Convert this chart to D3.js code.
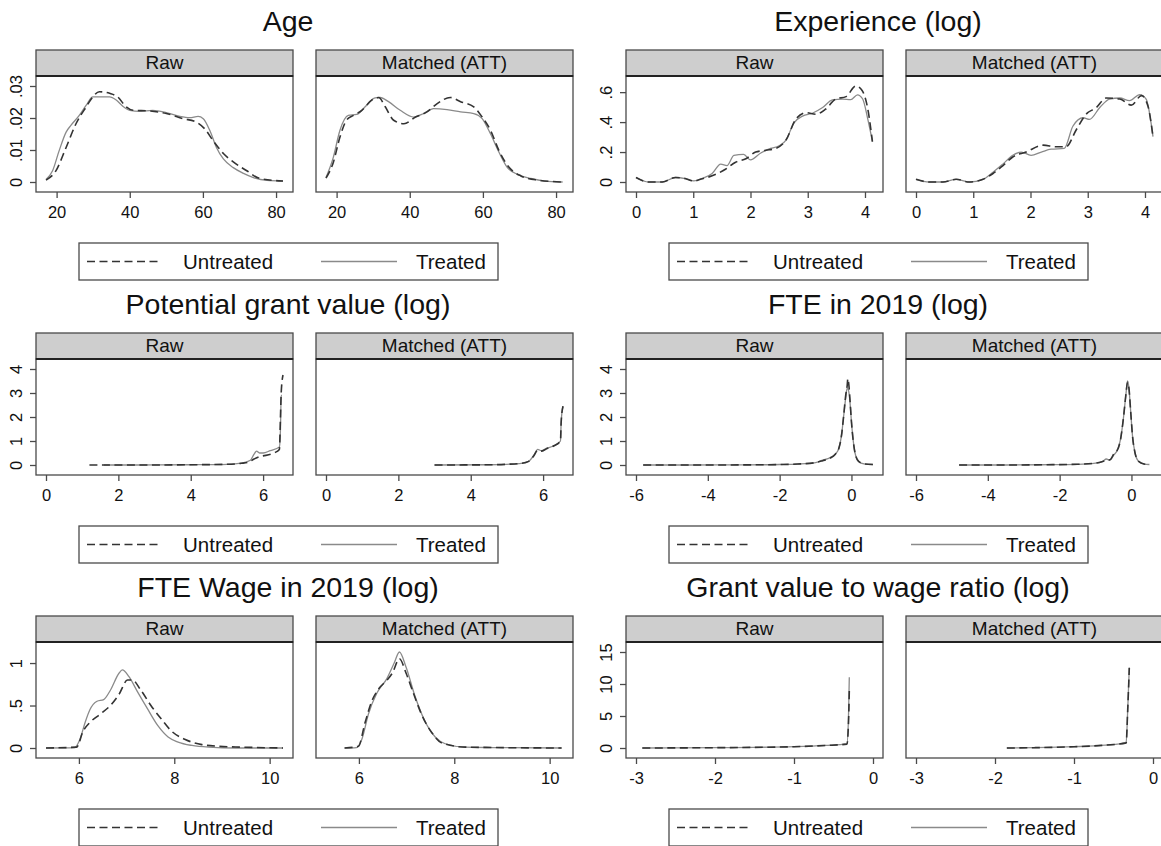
<!DOCTYPE html>
<html>
<head>
<meta charset="utf-8">
<script src="https://cdn.jsdelivr.net/npm/d3@7/dist/d3.min.js"></script>
<style>
  body { margin: 0; background: #fff; }
  text { font-family: "Liberation Sans", Arial, sans-serif; fill: #111; }
</style>
</head>
<body>
<svg id="chart" width="1161" height="846"></svg>
<script>
// ---- data: [x, density] ----
const titles = ["Age", "Experience (log)", "Potential grant value (log)",
  "FTE in 2019 (log)", "FTE Wage in 2019 (log)", "Grant value to wage ratio (log)"];
const panelNames = ["Raw", "Matched (ATT)"];
const seriesNames = ["Untreated", "Treated"];

const xTicks = [
  [20, 40, 60, 80], [0, 1, 2, 3, 4], [0, 2, 4, 6],
  [-6, -4, -2, 0], [6, 8, 10], [-3, -2, -1, 0]
];
const yTicks = [
  [0, .01, .02, .03], [0, .2, .4, .6], [0, 1, 2, 3, 4],
  [0, 1, 2, 3, 4], [0, .5, 1], [0, 5, 10, 15]
];

const ageRawUntreated = [[17.1,.0006],[19.8,.0035],[22.6,.0108],[25.3,.0182],[28.1,.0235],[29.9,.0266],[31.7,.0282],[34.5,.0277],[36.7,.0266],[39,.0235],[40.9,.0224],[45.4,.0222],[50,.0214],[54.6,.0198],[58.2,.0187],[60.5,.0166],[62.8,.0129],[65.6,.0089],[68.3,.0063],[72,.0035],[75.6,.0011],[81.9,.0003]];
const ageRawTreated = [[17.1,.0008],[18.9,.0035],[20.7,.0098],[22.6,.0156],[23.9,.0177],[26.2,.0208],[28.1,.024],[29.9,.0266],[31.7,.0266],[34.5,.0266],[36.3,.0256],[38.1,.0237],[40,.0224],[42.7,.0221],[46.3,.0224],[50,.0217],[53.7,.0205],[56.4,.0201],[58.7,.0205],[60.1,.0198],[61.9,.0161],[63.7,.0108],[65.6,.0072],[68.3,.0045],[71.1,.0027],[73.8,.0014],[77.5,.0005],[81.9,.0003]];
const ageMatchedUntreated = [[17.1,.0012],[19.1,.0061],[20.9,.014],[22.7,.0193],[24.6,.0208],[26.9,.0224],[29.6,.0256],[31.5,.0264],[33.3,.0235],[35.6,.0193],[38.4,.0182],[41.6,.0203],[44.7,.0219],[47.5,.0245],[51.1,.0264],[53.9,.0251],[57.5,.0235],[59.8,.0203],[62.1,.0161],[64.4,.0098],[67.2,.0045],[70.4,.0019],[74.9,.0006],[81.8,0]];
const ageMatchedTreated = [[17.1,.0014],[19.1,.0077],[20.9,.0161],[23.2,.0208],[25.5,.0211],[27.8,.0235],[30.5,.0263],[31.9,.0264],[34.2,.0251],[37.4,.0224],[41.1,.0203],[43.8,.0214],[46.5,.0229],[50.2,.0226],[53.9,.0219],[57.5,.0214],[59.8,.0198],[62.1,.015],[64.4,.0093],[66.7,.0045],[69.4,.0024],[73.1,.0011],[76.8,.0003],[81.8,0]];

const expRawUntreated = [[0,.03],[.22,0],[.46,0],[.69,.03],[.86,.023],[1.01,.007],[1.16,.022],[1.33,.041],[1.57,.087],[1.74,.132],[1.92,.155],[2.09,.2],[2.27,.212],[2.44,.224],[2.62,.28],[2.79,.418],[2.97,.463],[3.14,.452],[3.31,.486],[3.49,.554],[3.67,.57],[3.84,.641],[3.95,.611],[4.05,.486],[4.13,.27]];
const expRawTreated = [[0,.03],[.22,0],[.46,0],[.69,.03],[.86,.023],[1.01,.007],[1.16,.025],[1.33,.057],[1.48,.12],[1.59,.11],[1.71,.178],[1.88,.185],[2,.148],[2.18,.194],[2.35,.224],[2.5,.242],[2.62,.28],[2.76,.395],[2.91,.44],[3.08,.459],[3.26,.497],[3.43,.548],[3.61,.554],[3.75,.55],[3.87,.582],[3.96,.554],[4.05,.418],[4.13,.27]];
const expMatchedUntreated = [[0,.018],[.23,0],[.47,0],[.7,.018],[.93,0],[1.17,.018],[1.34,.055],[1.52,.11],[1.69,.167],[1.92,.2],[2.22,.246],[2.45,.235],[2.62,.235],[2.8,.349],[2.97,.452],[3.15,.497],[3.32,.561],[3.56,.554],[3.76,.513],[3.94,.577],[4.05,.509],[4.14,.303]];
const expMatchedTreated = [[0,.018],[.23,0],[.47,0],[.7,.018],[.93,0],[1.17,.018],[1.34,.064],[1.52,.121],[1.69,.178],[1.84,.2],[2.01,.178],[2.19,.2],[2.36,.219],[2.59,.224],[2.74,.372],[2.92,.429],[3.03,.418],[3.21,.497],[3.38,.554],[3.56,.561],[3.73,.543],[3.91,.584],[4.02,.554],[4.14,.303]];

const grantRawUntreated = [[1.2,0],[2.5,0],[4,.01],[5,.03],[5.4,.07],[5.6,.12],[5.75,.25],[5.9,.35],[6,.38],[6.3,.5],[6.45,.65],[6.48,2],[6.5,3],[6.55,3.75]];
const grantRawTreated = [[1.6,0],[2.5,0],[4,.01],[5,.03],[5.4,.08],[5.65,.2],[5.75,.45],[5.82,.58],[5.9,.5],[6,.5],[6.2,.6],[6.45,.75],[6.48,1.5],[6.5,2.9],[6.52,2.9]];
const grantMatchedUntreated = [[3,0],[4.5,.01],[5,.03],[5.4,.07],[5.6,.15],[5.75,.4],[5.85,.62],[5.95,.58],[6.1,.68],[6.3,.8],[6.48,1],[6.5,1.8],[6.55,2.45]];
const grantMatchedTreated = [[3,0],[4.5,.01],[5,.03],[5.4,.07],[5.6,.15],[5.75,.42],[5.85,.65],[5.95,.6],[6.1,.7],[6.3,.8],[6.48,1],[6.5,1.8],[6.55,2.45]];

const fteRawUntreated = [[-5.8,0],[-4.5,0],[-3,.005],[-2,.02],[-1.5,.04],[-1,.1],[-.8,.18],[-.6,.28],[-.45,.45],[-.35,.7],[-.28,1.2],[-.22,2],[-.16,2.9],[-.12,3.3],[-.1,3.6],[-.07,3.3],[-.04,2.7],[0,1.8],[.05,1],[.1,.5],[.2,.15],[.35,.05],[.6,.02]];
const fteRawTreated = [[-5.8,0],[-4.5,0],[-3,.005],[-2,.02],[-1.5,.04],[-1,.1],[-.8,.2],[-.6,.3],[-.45,.45],[-.35,.7],[-.28,1.2],[-.22,2],[-.16,2.8],[-.12,3.2],[-.08,3.1],[-.04,2.6],[0,1.8],[.05,1],[.1,.5],[.2,.15],[.35,.05],[.6,.02]];
const fteMatchedUntreated = [[-4.8,0],[-3.5,0],[-2.5,.01],[-1.5,.03],[-1,.08],[-.8,.15],[-.7,.2],[-.6,.22],[-.45,.55],[-.4,.6],[-.3,1.1],[-.22,2],[-.15,3],[-.11,3.45],[-.07,3.2],[-.02,2.2],[.03,1.2],[.1,.5],[.2,.15],[.35,.04],[.5,.02]];
const fteMatchedTreated = [[-4.8,0],[-3.5,0],[-2.5,.01],[-1.5,.03],[-1,.08],[-.8,.15],[-.7,.25],[-.6,.2],[-.5,.4],[-.4,.6],[-.3,1.1],[-.22,2],[-.15,3],[-.11,3.5],[-.07,3.2],[-.02,2.2],[.03,1.2],[.1,.5],[.2,.15],[.35,.04],[.5,.02]];

const wageRawUntreated = [[5.31,0],[5.95,.01],[6.09,.2],[6.23,.3],[6.45,.4],[6.66,.5],[6.84,.63],[7.02,.8],[7.12,.8],[7.3,.68],[7.51,.5],[7.73,.34],[7.94,.2],[8.23,.1],[8.58,.04],[8.93,.02],[9.43,.01],[10.28,0]];
const wageRawTreated = [[5.31,0],[5.91,.005],[6.02,.1],[6.13,.3],[6.23,.45],[6.38,.55],[6.52,.57],[6.66,.68],[6.84,.88],[6.91,.92],[7.05,.84],[7.23,.66],[7.44,.46],[7.66,.26],[7.87,.13],[8.08,.07],[8.37,.03],[8.72,.01],[9.29,0],[10.28,0]];
const wageMatchedUntreated = [[5.7,0],[5.99,.02],[6.13,.3],[6.27,.55],[6.42,.7],[6.59,.8],[6.7,.88],[6.85,1.05],[6.99,.88],[7.14,.65],[7.31,.4],[7.53,.18],[7.74,.06],[8.24,.01],[10.25,0]];
const wageMatchedTreated = [[5.7,0],[5.95,.005],[6.06,.1],[6.2,.4],[6.38,.65],[6.59,.82],[6.74,1],[6.85,1.13],[6.99,.95],[7.17,.62],[7.38,.32],[7.6,.13],[7.81,.05],[8.24,.01],[8.82,.005],[10.25,0]];

const ratioRawUntreated = [[-2.92,0],[-2,.05],[-1.5,.1],[-1,.2],[-.6,.4],[-.33,.6],[-.31,4],[-.3,8.9]];
const ratioRawTreated = [[-2.92,0],[-2,.05],[-1.5,.1],[-1,.22],[-.6,.42],[-.33,.65],[-.31,5],[-.3,11.06]];
const ratioMatchedUntreated = [[-1.85,0],[-1.5,.05],[-1,.2],[-.6,.45],[-.34,.8],[-.32,6],[-.3,12.5]];
const ratioMatchedTreated = [[-1.85,0],[-1.5,.05],[-1,.2],[-.6,.45],[-.34,.8],[-.32,6],[-.3,12.6]];

const charts = [
  [[ageRawUntreated, ageRawTreated], [ageMatchedUntreated, ageMatchedTreated]],
  [[expRawUntreated, expRawTreated], [expMatchedUntreated, expMatchedTreated]],
  [[grantRawUntreated, grantRawTreated], [grantMatchedUntreated, grantMatchedTreated]],
  [[fteRawUntreated, fteRawTreated], [fteMatchedUntreated, fteMatchedTreated]],
  [[wageRawUntreated, wageRawTreated], [wageMatchedUntreated, wageMatchedTreated]],
  [[ratioRawUntreated, ratioRawTreated], [ratioMatchedUntreated, ratioMatchedTreated]]
].map((panels, i) => ({ title: titles[i], xTicks: xTicks[i], yTicks: yTicks[i], panels }));

// ---- layout ----
const blockW = 590, blockH = 283;
const panelX = [[36, 293], [316, 573]];
const stripTop = 50, stripBottom = 76, plotBottom = 192;
const pad = 10;
const frame = "#4a4a4a";
const lineStyle = [
  { stroke: "#333", width: 1.6, dash: "8,4.5" },
  { stroke: "#8a8a8a", width: 1.3, dash: null }
];

// stata style labels: .03 instead of 0.03
const fmt = d => d === 0 ? "0" : String(d).replace(/^0\./, ".").replace(/^-0\./, "-.");

const svg = d3.select("#chart");
svg.append("rect").attr("width", 1161).attr("height", 846).attr("fill", "#fff");

charts.forEach((c, i) => {
  const g = svg.append("g")
    .attr("transform", `translate(${(i % 2) * blockW},${Math.floor(i / 2) * blockH})`);

  const allPts = c.panels.flat(2);
  const xExt = d3.extent(allPts.map(p => p[0]).concat(c.xTicks));
  const yExt = d3.extent(allPts.map(p => p[1]).concat(c.yTicks));

  g.append("text")
    .attr("x", 288).attr("y", 31)
    .attr("text-anchor", "middle")
    .attr("font-size", 28.5)
    .text(c.title);

  const y = d3.scaleLinear().domain(yExt).range([plotBottom - pad, stripBottom + pad]);

  c.panels.forEach((series, p) => {
    const [left, right] = panelX[p];
    const x = d3.scaleLinear().domain(xExt).range([left + pad, right - pad]);

    // strip
    g.append("rect")
      .attr("x", left).attr("y", stripTop)
      .attr("width", right - left).attr("height", stripBottom - stripTop)
      .attr("fill", "#cecece").attr("stroke", frame).attr("stroke-width", 1.3);
    g.append("text")
      .attr("x", (left + right) / 2).attr("y", stripBottom - 7)
      .attr("text-anchor", "middle")
      .attr("font-size", 19)
      .text(panelNames[p]);

    // plot frame
    g.append("rect")
      .attr("x", left).attr("y", stripBottom)
      .attr("width", right - left).attr("height", plotBottom - stripBottom)
      .attr("fill", "#fff").attr("stroke", frame).attr("stroke-width", 1.3);
    g.append("line")
      .attr("x1", left).attr("x2", right)
      .attr("y1", stripBottom).attr("y2", stripBottom)
      .attr("stroke", "#222").attr("stroke-width", 2.2);

    // x axis
    const xa = g.append("g")
      .attr("transform", `translate(0,${plotBottom})`)
      .call(d3.axisBottom(x).tickValues(c.xTicks).tickFormat(fmt).tickSize(6).tickPadding(8).tickSizeOuter(0));
    xa.select(".domain").remove();
    xa.selectAll(".tick line").attr("stroke", frame).attr("stroke-width", 1.3);
    xa.selectAll(".tick text")
      .attr("font-size", 16.5)
      .attr("fill", "#111")
      .attr("font-family", '"Liberation Sans", Arial, sans-serif');

    // y axis on raw panel only
    if (p === 0) {
      const ya = g.append("g")
        .attr("transform", `translate(${left},0)`)
        .call(d3.axisLeft(y).tickValues(c.yTicks).tickFormat(fmt).tickSize(6).tickSizeOuter(0));
      ya.select(".domain").remove();
      ya.selectAll(".tick line").attr("stroke", frame).attr("stroke-width", 1.3);
      ya.selectAll(".tick text")
        .attr("font-size", 16.5)
        .attr("fill", "#111")
        .attr("font-family", '"Liberation Sans", Arial, sans-serif')
        .attr("text-anchor", "middle")
        .attr("transform", "rotate(-90)")
        .attr("x", 0)
        .attr("y", -14)
        .attr("dy", 0);
    }

    const line = d3.line()
      .x(d => x(d[0]))
      .y(d => y(d[1]))
      .curve(d3.curveMonotoneX);

    // treated (solid) under untreated (dashed)
    [1, 0].forEach(s => {
      g.append("path")
        .datum(series[s])
        .attr("d", line)
        .attr("fill", "none")
        .attr("stroke", lineStyle[s].stroke)
        .attr("stroke-width", lineStyle[s].width)
        .attr("stroke-dasharray", lineStyle[s].dash)
        .attr("stroke-linejoin", "round");
    });
  });

  // legend
  const lg = g.append("g");
  lg.append("rect")
    .attr("x", 79).attr("y", 243).attr("width", 419).attr("height", 37)
    .attr("fill", "#fff").attr("stroke", frame).attr("stroke-width", 1.3);
  const legendX = [[87, 160, 183], [321, 397, 416]];
  seriesNames.forEach((name, s) => {
    const [a, b, t] = legendX[s];
    lg.append("line")
      .attr("x1", a).attr("x2", b).attr("y1", 261.5).attr("y2", 261.5)
      .attr("stroke", lineStyle[s].stroke)
      .attr("stroke-width", lineStyle[s].width)
      .attr("stroke-dasharray", lineStyle[s].dash);
    lg.append("text")
      .attr("x", t).attr("y", 269)
      .attr("font-size", 20.5)
      .text(name);
  });
});
</script>
</body>
</html>
